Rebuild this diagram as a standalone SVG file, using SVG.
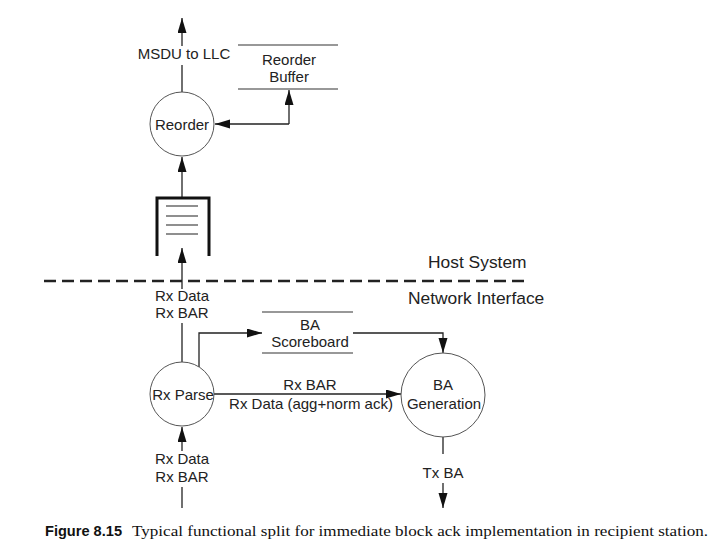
<svg xmlns="http://www.w3.org/2000/svg" width="726" height="556" viewBox="0 0 726 556">
<style>
.t{font-family:"Liberation Sans",Arial,sans-serif;font-size:15px;fill:#222;text-anchor:middle}
.big{font-family:"Liberation Sans",Arial,sans-serif;font-size:17.4px;fill:#222}
.ln{stroke:#222;stroke-width:1.3;fill:none}
.circ{stroke:#555;stroke-width:1;fill:#fff}
.store{stroke:#333;stroke-width:1.2}
</style>
<defs>
<marker id="ah" markerUnits="userSpaceOnUse" markerWidth="15" markerHeight="10" refX="15" refY="4.5" orient="auto">
<path d="M0,0 L15,4.5 L0,9 z" fill="#111"/>
</marker>
</defs>
<rect width="726" height="556" fill="#fff"/>

<g id="connectors">
<path class="ln" d="M182,46 L182,18" marker-end="url(#ah)"/>
<path class="ln" d="M182,92 L182,65"/>
<path class="ln" d="M289,124 L289,90" marker-end="url(#ah)"/>
<path class="ln" d="M289,124 L215,124" marker-end="url(#ah)"/>
<path class="ln" d="M182,197 L182,157" marker-end="url(#ah)"/>
<path class="ln" d="M182,289 L182,248" marker-end="url(#ah)"/>
<path class="ln" d="M182,362 L182,323"/>
<path class="ln" d="M199,367 L199,333 L262,333" marker-end="url(#ah)"/>
<path class="ln" d="M353,333 L443,333 L443,353" marker-end="url(#ah)"/>
<path class="ln" d="M214,394 L401,394" marker-end="url(#ah)"/>
<path class="ln" d="M182,451 L182,427" marker-end="url(#ah)"/>
<path class="ln" d="M182,487 L182,508"/>
<path class="ln" d="M443,437 L443,454"/>
<path class="ln" d="M443,483 L443,508" marker-end="url(#ah)"/>
</g>

<g id="boundary">
<line x1="44" y1="281" x2="530" y2="281" stroke="#222" stroke-width="2.5" stroke-dasharray="12 6"/>
<text class="big" x="428" y="268">Host System</text>
<text class="big" x="408" y="304">Network Interface</text>
</g>

<g id="msdu-label">
<text class="t" x="184" y="59">MSDU to LLC</text>
</g>

<g id="reorder-buffer">
<line class="store" x1="238" y1="45" x2="338" y2="45"/>
<line class="store" x1="238" y1="89" x2="338" y2="89"/>
<text class="t" x="289" y="65">Reorder</text>
<text class="t" x="289" y="82">Buffer</text>
</g>

<g id="reorder">
<circle class="circ" cx="182" cy="124" r="32"/>
<text class="t" x="182" y="130">Reorder</text>
</g>

<g id="queue">
<path d="M157,256 L157,198 L209,198 L209,256" fill="none" stroke="#111" stroke-width="3"/>
<g stroke="#333" stroke-width="1.1">
<line x1="166" y1="206" x2="198" y2="206"/>
<line x1="166" y1="216" x2="198" y2="216"/>
<line x1="166" y1="225" x2="198" y2="225"/>
<line x1="166" y1="234" x2="198" y2="234"/>
</g>
</g>

<g id="rx-up-label">
<text class="t" x="182" y="301">Rx Data</text>
<text class="t" x="182" y="318">Rx BAR</text>
</g>

<g id="ba-scoreboard">
<line class="store" x1="262" y1="312" x2="353" y2="312"/>
<line class="store" x1="262" y1="353" x2="353" y2="353"/>
<text class="t" x="310" y="330">BA</text>
<text class="t" x="310" y="347">Scoreboard</text>
</g>

<g id="rx-parse">
<circle class="circ" cx="182" cy="394" r="32"/>
<text class="t" x="183" y="400">Rx Parse</text>
</g>

<g id="mid-label">
<text class="t" x="310" y="390">Rx BAR</text>
<text class="t" x="311" y="409">Rx Data (agg+norm ack)</text>
</g>

<g id="ba-generation">
<circle class="circ" cx="443" cy="395" r="42"/>
<text class="t" x="443" y="390">BA</text>
<text class="t" x="444" y="409">Generation</text>
</g>

<g id="rx-in-label">
<text class="t" x="182" y="464">Rx Data</text>
<text class="t" x="182" y="482">Rx BAR</text>
</g>

<g id="tx-label">
<text class="t" x="443" y="478">Tx BA</text>
</g>

<g id="caption">
<text x="45" y="536" font-family="'Liberation Sans Narrow','Arial Narrow','Liberation Sans',sans-serif" font-weight="bold" font-size="15.5" font-stretch="condensed" fill="#111" textLength="77" lengthAdjust="spacingAndGlyphs">Figure 8.15</text>
<text x="132" y="536" font-family="'Liberation Serif','Times New Roman',serif" font-size="14.5" fill="#111" textLength="576" lengthAdjust="spacingAndGlyphs">Typical functional split for immediate block ack implementation in recipient station.</text>
</g>
</svg>
